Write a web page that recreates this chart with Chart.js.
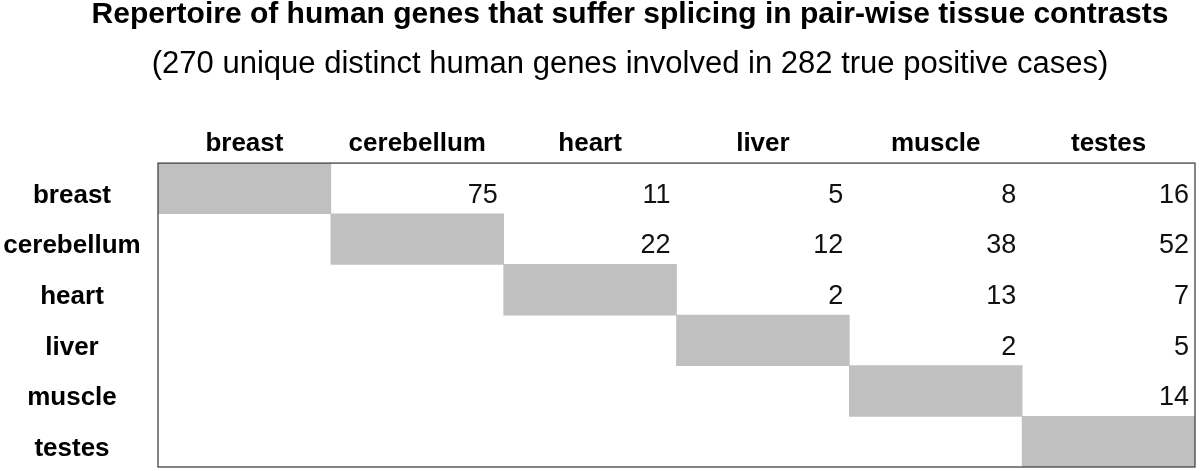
<!DOCTYPE html>
<html>
<head>
<meta charset="utf-8">
<script src="https://cdn.jsdelivr.net/npm/chart.js@4"></script>
<style>
  html, body { margin: 0; padding: 0; background: #fff; }
  #wrap { width: 1200px; height: 471px; }
</style>
</head>
<body>
<div id="wrap"><canvas id="chart" width="1200" height="471"></canvas></div>
<script>
// tissues, used for both rows and columns
const tissues = ['breast', 'cerebellum', 'heart', 'liver', 'muscle', 'testes'];

// genes per pair-wise contrast (upper triangle only)
const breastRow     = [null, 75, 11, 5, 8, 16];
const cerebellumRow = [null, null, 22, 12, 38, 52];
const heartRow      = [null, null, null, 2, 13, 7];
const liverRow      = [null, null, null, null, 2, 5];
const muscleRow     = [null, null, null, null, null, 14];
const testesRow     = [null, null, null, null, null, null];
const counts = [breastRow, cerebellumRow, heartRow, liverRow, muscleRow, testesRow];

const FONT = "'Liberation Sans', Arial, Helvetica, sans-serif";
Chart.defaults.font.family = FONT;
Chart.defaults.color = '#000';

const ROW_LABEL_X = 72;

// row labels, numbers right-aligned in their cells, and the outer frame
const cellText = {
  id: 'cellText',
  afterDraw(chart) {
    const { ctx, chartArea, scales: { x, y } } = chart;
    const rowH = y.getPixelForValue(1) - y.getPixelForValue(0);
    ctx.save();
    ctx.textBaseline = 'alphabetic';
    ctx.fillStyle = '#000';

    ctx.font = 'bold 26px ' + FONT;
    ctx.textAlign = 'center';
    y.getLabels().forEach((lab, r) => {
      ctx.fillText(lab, ROW_LABEL_X, y.getPixelForValue(r) + rowH / 2 - 11);
    });

    ctx.font = '27px ' + FONT;
    ctx.fillStyle = '#111';
    ctx.textAlign = 'right';
    counts.forEach((row, r) => {
      row.forEach((v, c) => {
        if (v === null) return;
        const px = x.getPixelForValue(c + 1) - 6;
        const py = y.getPixelForValue(r) + rowH / 2 - 11;
        ctx.fillText(String(v), px, py);
      });
    });

    ctx.strokeStyle = '#444';
    ctx.lineWidth = 1.3;
    ctx.strokeRect(chartArea.left, chartArea.top, chartArea.right - chartArea.left, chartArea.bottom - chartArea.top);
    ctx.restore();
  }
};

new Chart(document.getElementById('chart'), {
  type: 'bar',
  data: {
    labels: tissues,
    datasets: [{
      // gray diagonal: each tissue against itself
      data: tissues.map((t, i) => [i, i + 1]),
      backgroundColor: '#c0c0c0',
      borderWidth: 0,
      barPercentage: 1,
      categoryPercentage: 1
    }]
  },
  options: {
    indexAxis: 'y',
    responsive: false,
    animation: false,
    // left padding shifts the titles' centre right, as in the original
    layout: { padding: { left: 65, right: 5, top: 0, bottom: 4 } },
    plugins: {
      legend: { display: false },
      tooltip: { enabled: false },
      title: {
        display: true,
        text: 'Repertoire of human genes that suffer splicing in pair-wise tissue contrasts',
        font: { size: 30, weight: 'bold', lineHeight: 0.85 },
        padding: { top: 2, bottom: 0 },
        color: '#000'
      },
      subtitle: {
        display: true,
        text: '(270 unique distinct human genes involved in 282 true positive cases)',
        font: { size: 31, weight: 'normal', lineHeight: 1.2 },
        padding: { top: 18, bottom: 0 },
        color: '#000'
      }
    },
    scales: {
      x: {
        type: 'linear',
        display: false,
        min: 0,
        max: 6
      },
      x2: {
        type: 'category',
        labels: tissues,
        position: 'top',
        offset: true,
        grid: { display: false, drawTicks: false },
        border: { display: false },
        ticks: { font: { size: 26, weight: 'bold', lineHeight: 1.2 }, padding: 4, maxRotation: 0 },
        afterFit(scale) { scale.height = 80.4; }
      },
      y: {
        type: 'category',
        grid: { display: false, drawTicks: false },
        border: { display: false },
        ticks: { display: false },
        afterFit(scale) {
          scale.width = 93;
          scale.paddingTop = 0;
          scale.paddingBottom = 0;
        }
      }
    }
  },
  plugins: [cellText]
});
</script>
</body>
</html>
